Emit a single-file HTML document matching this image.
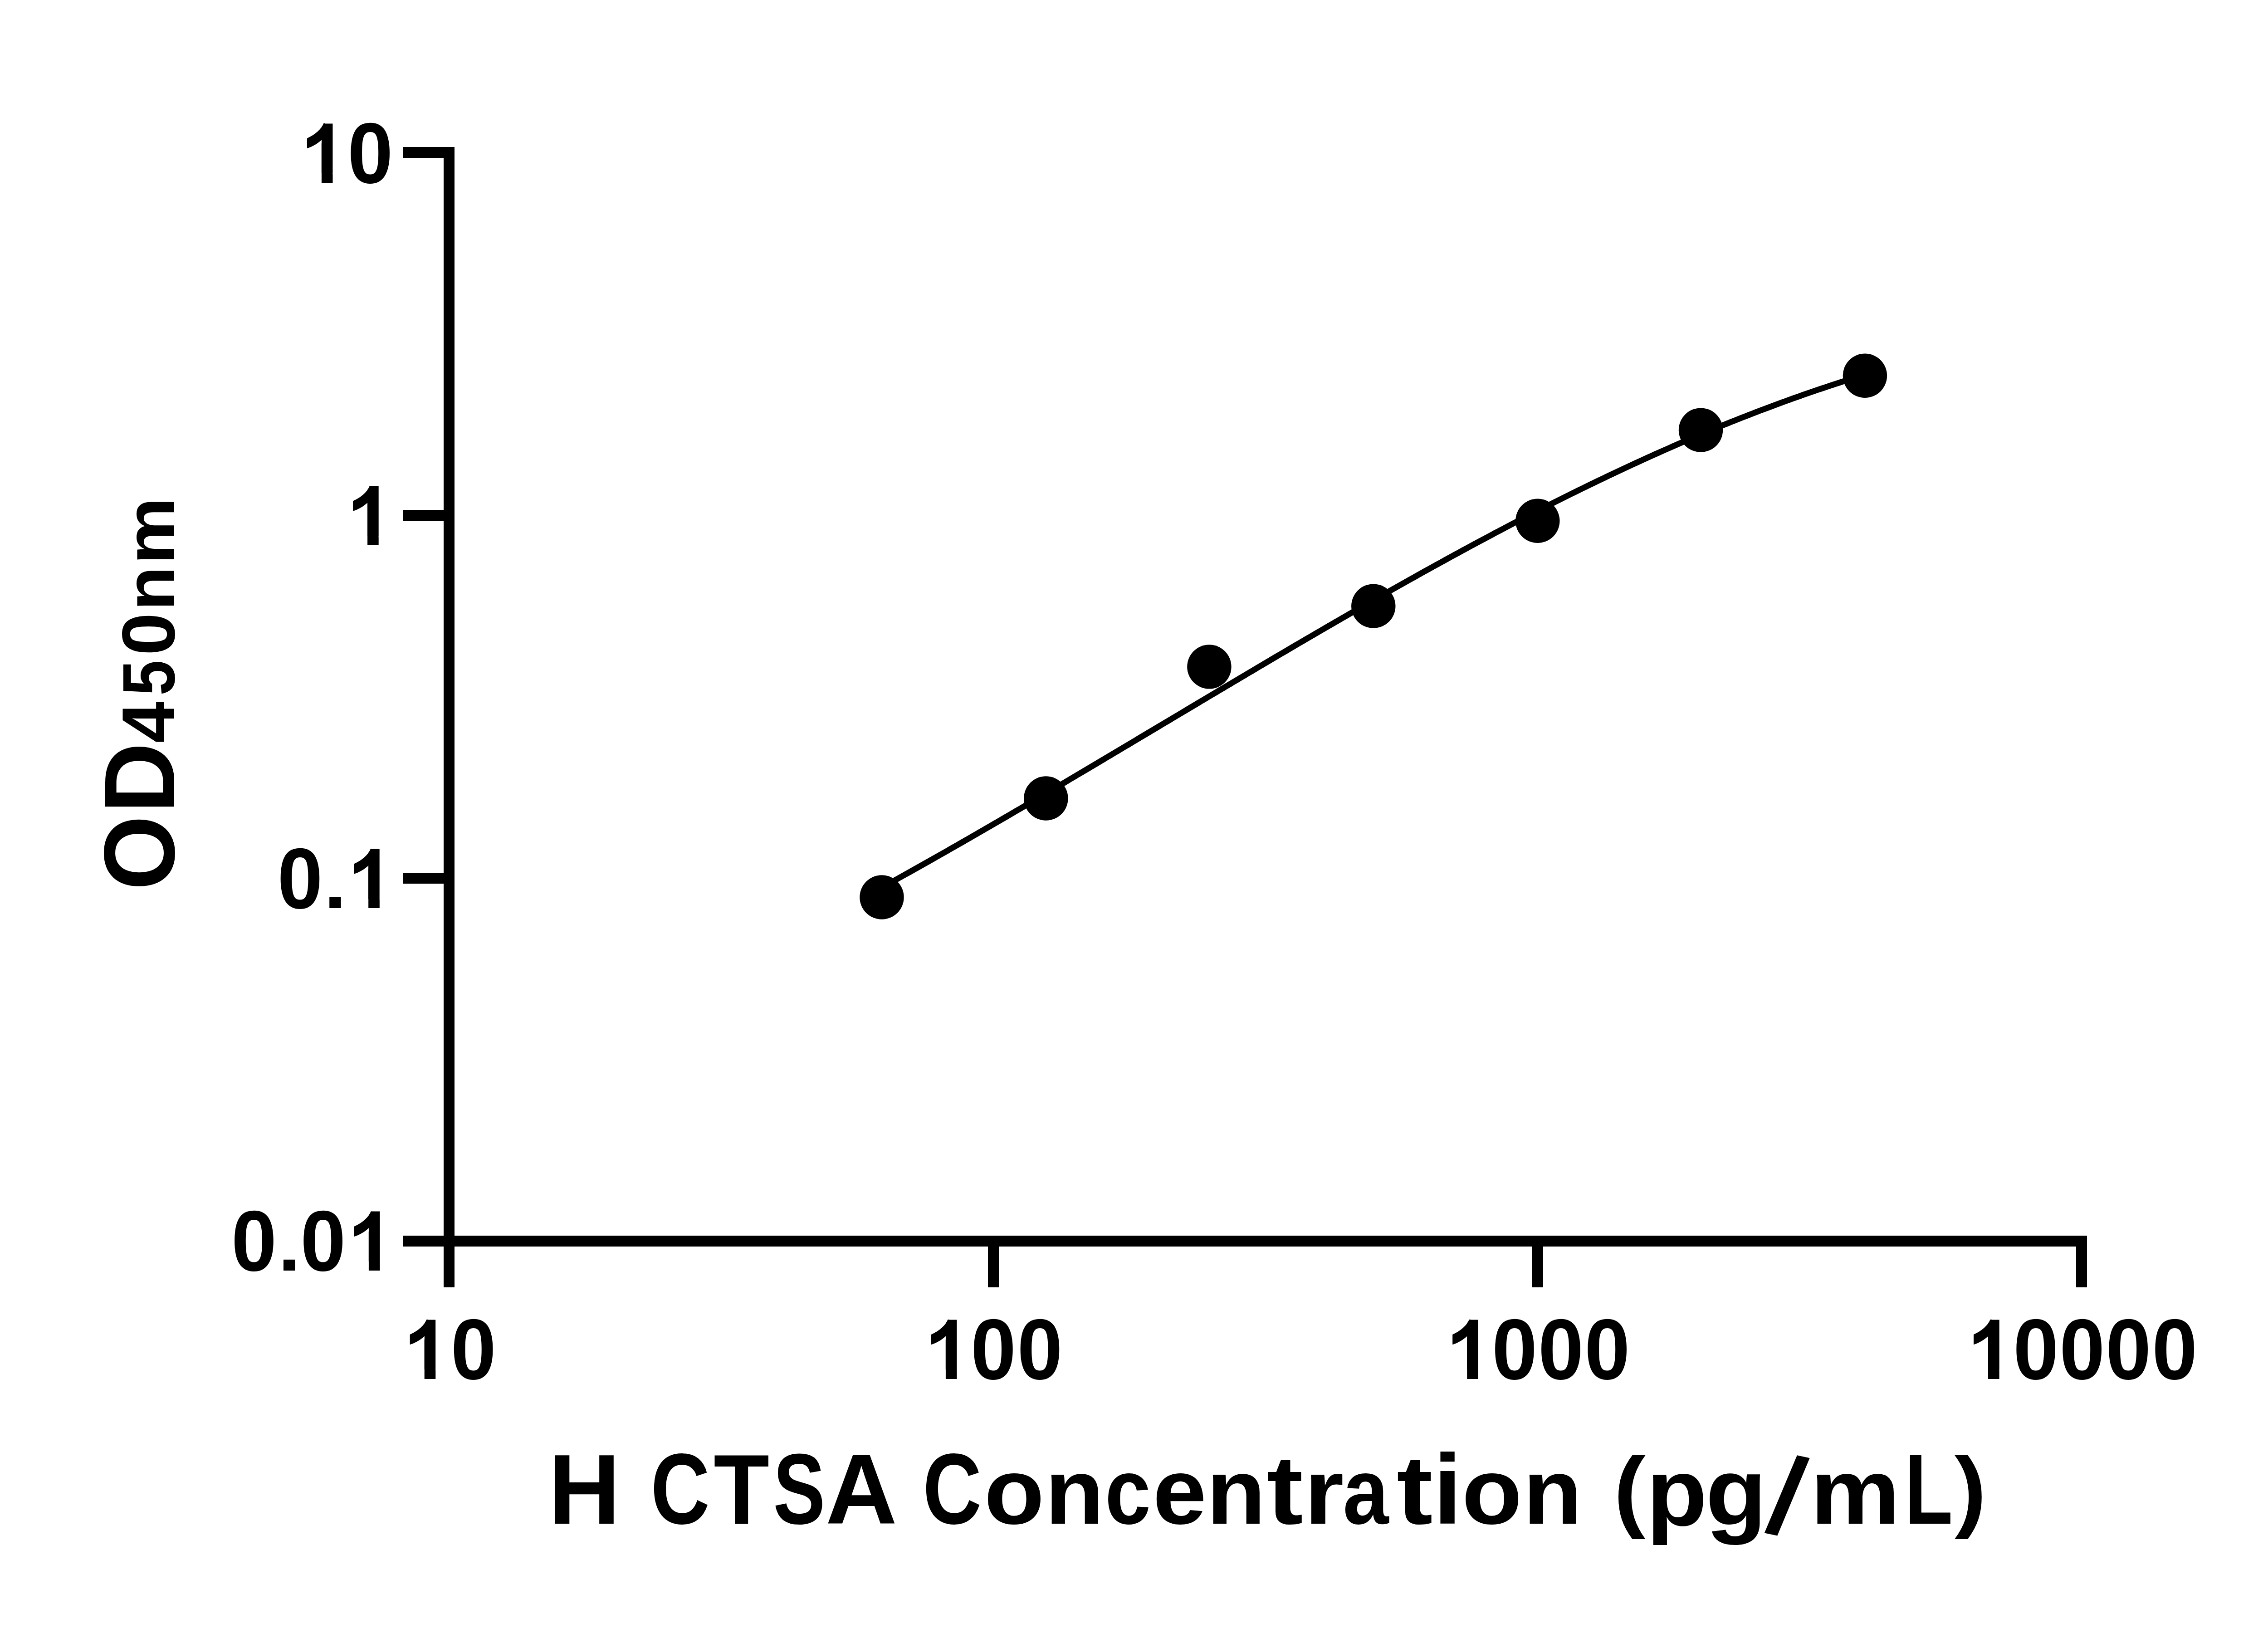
<!DOCTYPE html><html><head><meta charset="utf-8"><title>H CTSA standard curve</title><style>
html,body{margin:0;padding:0;background:#fff;}body{width:5142px;height:3600px;overflow:hidden;}
svg{display:block;}text{font-family:"Liberation Sans",sans-serif;font-weight:bold;fill:#000;}
</style></head><body>
<svg width="5142" height="3600" viewBox="0 0 5142 3600">
<rect width="5142" height="3600" fill="#fff"/>
<g fill="#000">
<rect x="978" y="324" width="24" height="2514"/>
<rect x="888" y="324" width="114" height="24"/>
<rect x="888" y="1124" width="114" height="24"/>
<rect x="888" y="1924" width="114" height="24"/>
<rect x="888" y="2724" width="114" height="24"/>
<rect x="978" y="2724" width="3623" height="24"/>
<rect x="2178" y="2724" width="24" height="114"/>
<rect x="3378" y="2724" width="24" height="114"/>
<rect x="4577" y="2724" width="24" height="114"/>
</g>
<polyline points="1944.0,1956.6 1952.0,1952.2 1960.0,1947.7 1968.0,1943.3 1976.0,1938.9 1984.0,1934.4 1992.0,1929.9 2000.0,1925.5 2008.0,1921.0 2016.0,1916.5 2024.0,1912.0 2032.0,1907.5 2040.0,1903.0 2048.0,1898.5 2056.0,1894.0 2064.0,1889.4 2072.0,1884.9 2080.0,1880.3 2088.0,1875.8 2096.0,1871.2 2104.0,1866.6 2112.0,1862.1 2120.0,1857.5 2128.0,1852.9 2136.0,1848.3 2144.0,1843.7 2152.0,1839.1 2160.0,1834.4 2168.0,1829.8 2176.0,1825.2 2184.0,1820.6 2192.0,1815.9 2200.0,1811.3 2208.0,1806.6 2216.0,1802.0 2224.0,1797.3 2232.0,1792.6 2240.0,1787.9 2248.0,1783.3 2256.0,1778.6 2264.0,1773.9 2272.0,1769.2 2280.0,1764.5 2288.0,1759.8 2296.0,1755.1 2304.0,1750.4 2312.0,1745.7 2320.0,1741.0 2328.0,1736.2 2336.0,1731.5 2344.0,1726.8 2352.0,1722.1 2360.0,1717.3 2368.0,1712.6 2376.0,1707.8 2384.0,1703.1 2392.0,1698.4 2400.0,1693.6 2408.0,1688.9 2416.0,1684.1 2424.0,1679.4 2432.0,1674.6 2440.0,1669.8 2448.0,1665.1 2456.0,1660.3 2464.0,1655.6 2472.0,1650.8 2480.0,1646.0 2488.0,1641.3 2496.0,1636.5 2504.0,1631.7 2512.0,1626.9 2520.0,1622.2 2528.0,1617.4 2536.0,1612.6 2544.0,1607.9 2552.0,1603.1 2560.0,1598.3 2568.0,1593.5 2576.0,1588.8 2584.0,1584.0 2592.0,1579.2 2600.0,1574.5 2608.0,1569.7 2616.0,1564.9 2624.0,1560.1 2632.0,1555.4 2640.0,1550.6 2648.0,1545.8 2656.0,1541.1 2664.0,1536.3 2672.0,1531.5 2680.0,1526.8 2688.0,1522.0 2696.0,1517.3 2704.0,1512.5 2712.0,1507.8 2720.0,1503.0 2728.0,1498.3 2736.0,1493.5 2744.0,1488.8 2752.0,1484.0 2760.0,1479.3 2768.0,1474.6 2776.0,1469.8 2784.0,1465.1 2792.0,1460.4 2800.0,1455.7 2808.0,1450.9 2816.0,1446.2 2824.0,1441.5 2832.0,1436.8 2840.0,1432.1 2848.0,1427.4 2856.0,1422.7 2864.0,1418.0 2872.0,1413.4 2880.0,1408.7 2888.0,1404.0 2896.0,1399.3 2904.0,1394.7 2912.0,1390.0 2920.0,1385.4 2928.0,1380.7 2936.0,1376.1 2944.0,1371.4 2952.0,1366.8 2960.0,1362.2 2968.0,1357.6 2976.0,1352.9 2984.0,1348.3 2992.0,1343.7 3000.0,1339.2 3008.0,1334.6 3016.0,1330.0 3024.0,1325.4 3032.0,1320.8 3040.0,1316.3 3048.0,1311.7 3056.0,1307.2 3064.0,1302.7 3072.0,1298.1 3080.0,1293.6 3088.0,1289.1 3096.0,1284.6 3104.0,1280.1 3112.0,1275.6 3120.0,1271.2 3128.0,1266.7 3136.0,1262.2 3144.0,1257.8 3152.0,1253.3 3160.0,1248.9 3168.0,1244.5 3176.0,1240.1 3184.0,1235.7 3192.0,1231.3 3200.0,1226.9 3208.0,1222.5 3216.0,1218.2 3224.0,1213.8 3232.0,1209.5 3240.0,1205.1 3248.0,1200.8 3256.0,1196.5 3264.0,1192.2 3272.0,1187.9 3280.0,1183.7 3288.0,1179.4 3296.0,1175.1 3304.0,1170.9 3312.0,1166.7 3320.0,1162.5 3328.0,1158.3 3336.0,1154.1 3344.0,1149.9 3352.0,1145.7 3360.0,1141.6 3368.0,1137.4 3376.0,1133.3 3384.0,1129.2 3392.0,1125.1 3400.0,1121.0 3408.0,1116.9 3416.0,1112.9 3424.0,1108.8 3432.0,1104.8 3440.0,1100.8 3448.0,1096.8 3456.0,1092.8 3464.0,1088.8 3472.0,1084.9 3480.0,1080.9 3488.0,1077.0 3496.0,1073.1 3504.0,1069.2 3512.0,1065.3 3520.0,1061.4 3528.0,1057.6 3536.0,1053.8 3544.0,1049.9 3552.0,1046.1 3560.0,1042.3 3568.0,1038.6 3576.0,1034.8 3584.0,1031.1 3592.0,1027.4 3600.0,1023.7 3608.0,1020.0 3616.0,1016.3 3624.0,1012.6 3632.0,1009.0 3640.0,1005.4 3648.0,1001.8 3656.0,998.2 3664.0,994.6 3672.0,991.1 3680.0,987.6 3688.0,984.0 3696.0,980.5 3704.0,977.1 3712.0,973.6 3720.0,970.2 3728.0,966.7 3736.0,963.3 3744.0,960.0 3752.0,956.6 3760.0,953.2 3768.0,949.9 3776.0,946.6 3784.0,943.3 3792.0,940.0 3800.0,936.8 3808.0,933.6 3816.0,930.3 3824.0,927.2 3832.0,924.0 3840.0,920.8 3848.0,917.7 3856.0,914.6 3864.0,911.5 3872.0,908.4 3880.0,905.3 3888.0,902.3 3896.0,899.3 3904.0,896.3 3912.0,893.3 3920.0,890.4 3928.0,887.4 3936.0,884.5 3944.0,881.6 3952.0,878.7 3960.0,875.9 3968.0,873.1 3976.0,870.2 3984.0,867.4 3992.0,864.7 4000.0,861.9 4008.0,859.2 4016.0,856.5 4024.0,853.8 4032.0,851.1 4040.0,848.5 4048.0,845.8 4056.0,843.2 4064.0,840.6 4072.0,838.1 4080.0,835.5 4088.0,833.0 4096.0,830.5 4104.0,828.0 4111.4,825.7" fill="none" stroke="#000" stroke-width="13" stroke-linejoin="round" stroke-linecap="round"/>
<g fill="#000">
<circle cx="1944.0" cy="1978.0" r="48.7"/>
<circle cx="2305.9" cy="1760.0" r="48.7"/>
<circle cx="2665.9" cy="1469.9" r="48.7"/>
<circle cx="3027.8" cy="1336.1" r="48.7"/>
<circle cx="3389.8" cy="1148.3" r="48.7"/>
<circle cx="3749.5" cy="948.1" r="48.7"/>
<circle cx="4111.4" cy="828.2" r="48.7"/>
</g>
<text transform="translate(0 402.5) scale(1 1.0554)" x="666.8 766.2" y="0" font-size="180">10</text>
<text transform="translate(0 1202.2) scale(1 1.0554)" x="768.0" y="0" font-size="180">1</text>
<text transform="translate(0 2002.2) scale(1 1.0554)" x="611.4 713.9 770.1" y="0" font-size="180">0.1</text>
<text transform="translate(0 2801.4) scale(1 1.0554)" x="510.1 612.7 662.3 770.8" y="0" font-size="180">0.01</text>
<text transform="translate(0 3039.7) scale(1 1.0554)" x="893.6 993.7" y="0" font-size="180">10</text>
<text transform="translate(0 3039.7) scale(1 1.0554)" x="2042.8 2140.0 2242.6" y="0" font-size="180">100</text>
<text transform="translate(0 3039.7) scale(1 1.0554)" x="3192.1 3289.1 3391.1 3493.3" y="0" font-size="180">1000</text>
<text transform="translate(0 3039.7) scale(1 1.0554)" x="4340.9 4438.3 4540.3 4642.3 4744.2" y="0" font-size="180">10000</text>
<g fill="#fff">
<rect x="675.2" y="382.1" width="33.7" height="23.4"/>
<rect x="733.5" y="382.1" width="31.4" height="23.4"/>
<rect x="674.8" y="269.8" width="34.0" height="46.4"/>
<rect x="776.4" y="1181.8" width="33.7" height="23.4"/>
<rect x="834.7" y="1181.8" width="31.4" height="23.4"/>
<rect x="776.0" y="1069.5" width="34.0" height="46.4"/>
<rect x="724.1" y="1971.9" width="29.4" height="5.7"/>
<rect x="778.5" y="1981.8" width="33.7" height="23.4"/>
<rect x="836.8" y="1981.8" width="31.4" height="23.4"/>
<rect x="778.1" y="1869.5" width="34.0" height="46.4"/>
<rect x="622.9" y="2771.1" width="29.4" height="5.7"/>
<rect x="779.2" y="2781.0" width="33.7" height="23.4"/>
<rect x="837.5" y="2781.0" width="31.4" height="23.4"/>
<rect x="778.8" y="2668.7" width="34.0" height="46.4"/>
<rect x="902.0" y="3019.3" width="33.7" height="23.4"/>
<rect x="960.3" y="3019.3" width="31.4" height="23.4"/>
<rect x="901.6" y="2907.0" width="34.0" height="46.4"/>
<rect x="2051.2" y="3019.3" width="33.7" height="23.4"/>
<rect x="2109.5" y="3019.3" width="31.4" height="23.4"/>
<rect x="2050.8" y="2907.0" width="34.0" height="46.4"/>
<rect x="3200.5" y="3019.3" width="33.7" height="23.4"/>
<rect x="3258.8" y="3019.3" width="31.4" height="23.4"/>
<rect x="3200.1" y="2907.0" width="34.0" height="46.4"/>
<rect x="4349.3" y="3019.3" width="33.7" height="23.4"/>
<rect x="4407.6" y="3019.3" width="31.4" height="23.4"/>
<rect x="4348.9" y="2907.0" width="34.0" height="46.4"/>
</g>
<g fill="#fff">
<path d="M713.7 271.8c-4.3 12-18.8 25-36.8 33.1h-3v-35.1h40.5z"/>
<path d="M814.9 1071.5c-4.3 12-18.8 25-36.8 33.1h-3v-35.1h40.5z"/>
<path d="M817.0 1871.5c-4.3 12-18.8 25-36.8 33.1h-3v-35.1h40.5z"/>
<path d="M817.7 2670.7c-4.3 12-18.8 25-36.8 33.1h-3v-35.1h40.5z"/>
<path d="M940.5 2909.0c-4.3 12-18.8 25-36.8 33.1h-3v-35.1h40.5z"/>
<path d="M2089.7 2909.0c-4.3 12-18.8 25-36.8 33.1h-3v-35.1h40.5z"/>
<path d="M3239.0 2909.0c-4.3 12-18.8 25-36.8 33.1h-3v-35.1h40.5z"/>
<path d="M4387.8 2909.0c-4.3 12-18.8 25-36.8 33.1h-3v-35.1h40.5z"/>
</g>
<g fill="#000">
<path d="M713.7 271.8c-4.3 12-18.8 25-36.8 33.1v22.2c12-3.3 24-11.3 32-18.5h8v-36.8z"/>
<path d="M814.9 1071.5c-4.3 12-18.8 25-36.8 33.1v22.2c12-3.3 24-11.3 32-18.5h8v-36.8z"/>
<path d="M817.0 1871.5c-4.3 12-18.8 25-36.8 33.1v22.2c12-3.3 24-11.3 32-18.5h8v-36.8z"/>
<path d="M817.7 2670.7c-4.3 12-18.8 25-36.8 33.1v22.2c12-3.3 24-11.3 32-18.5h8v-36.8z"/>
<path d="M940.5 2909.0c-4.3 12-18.8 25-36.8 33.1v22.2c12-3.3 24-11.3 32-18.5h8v-36.8z"/>
<path d="M2089.7 2909.0c-4.3 12-18.8 25-36.8 33.1v22.2c12-3.3 24-11.3 32-18.5h8v-36.8z"/>
<path d="M3239.0 2909.0c-4.3 12-18.8 25-36.8 33.1v22.2c12-3.3 24-11.3 32-18.5h8v-36.8z"/>
<path d="M4387.8 2909.0c-4.3 12-18.8 25-36.8 33.1v22.2c12-3.3 24-11.3 32-18.5h8v-36.8z"/>
</g>
<text><tspan x="1209.1" y="3359.4" font-size="219.8" textLength="158.6" lengthAdjust="spacingAndGlyphs">H</tspan> <tspan x="1434.4" y="3359.4" font-size="220.8" textLength="130.3" lengthAdjust="spacingAndGlyphs">C</tspan><tspan x="1573.2" y="3359.4" font-size="219.8" textLength="122.8" lengthAdjust="spacingAndGlyphs">T</tspan><tspan x="1704.6" y="3359.4" font-size="220.8" textLength="114.8" lengthAdjust="spacingAndGlyphs">S</tspan><tspan x="1820.1" y="3359.4" font-size="219.8" textLength="158.0" lengthAdjust="spacingAndGlyphs">A</tspan> <tspan x="2034.6" y="3359.4" font-size="220.8" textLength="129.7" lengthAdjust="spacingAndGlyphs">C</tspan><tspan x="2169.4" y="3359.4" font-size="206.0" textLength="132.8" lengthAdjust="spacingAndGlyphs">o</tspan><tspan x="2303.8" y="3359.4" font-size="204.6" textLength="130.3" lengthAdjust="spacingAndGlyphs">n</tspan><tspan x="2436.0" y="3359.4" font-size="206.0" textLength="101.0" lengthAdjust="spacingAndGlyphs">c</tspan><tspan x="2541.5" y="3359.4" font-size="206.0" textLength="118.4" lengthAdjust="spacingAndGlyphs">e</tspan><tspan x="2659.8" y="3359.4" font-size="204.6" textLength="130.4" lengthAdjust="spacingAndGlyphs">n</tspan><tspan x="2793.1" y="3359.4" font-size="215.0" textLength="79.7" lengthAdjust="spacingAndGlyphs">t</tspan><tspan x="2875.3" y="3359.4" font-size="204.6" textLength="87.4" lengthAdjust="spacingAndGlyphs">r</tspan><tspan x="2960.6" y="3359.4" font-size="206.0" textLength="100.9" lengthAdjust="spacingAndGlyphs">a</tspan><tspan x="3079.0" y="3359.4" font-size="215.0" textLength="79.5" lengthAdjust="spacingAndGlyphs">t</tspan><tspan x="3159.6" y="3359.4" font-size="219.0" textLength="63.4" lengthAdjust="spacingAndGlyphs">i</tspan><tspan x="3222.8" y="3359.4" font-size="206.0" textLength="132.8" lengthAdjust="spacingAndGlyphs">o</tspan><tspan x="3357.8" y="3359.4" font-size="204.6" textLength="130.0" lengthAdjust="spacingAndGlyphs">n</tspan> <tspan x="3557.5" y="3352.4" font-size="199.0" textLength="70.2" lengthAdjust="spacingAndGlyphs">(</tspan><tspan x="3629.4" y="3362.0" font-size="209.0" textLength="134.1" lengthAdjust="spacingAndGlyphs">p</tspan><tspan x="3760.3" y="3362.0" font-size="209.0" textLength="134.5" lengthAdjust="spacingAndGlyphs">g</tspan><tspan x="3888.6" y="3374.2" font-size="245.0" rotate="12">/</tspan><tspan x="3991.1" y="3359.4" font-size="204.6" textLength="197.8" lengthAdjust="spacingAndGlyphs">m</tspan><tspan x="4199.2" y="3359.4" font-size="219.8" textLength="105.8" lengthAdjust="spacingAndGlyphs">L</tspan><tspan x="4309.1" y="3352.4" font-size="199.0" textLength="70.3" lengthAdjust="spacingAndGlyphs">)</tspan></text>
<text transform="translate(384.4 1953.8) rotate(-90)"><tspan x="-8.7" y="0.0" font-size="220.9" textLength="164.6" lengthAdjust="spacingAndGlyphs">O</tspan><tspan x="161.1" y="0.0" font-size="220.1" textLength="155.9" lengthAdjust="spacingAndGlyphs">D</tspan><tspan x="315.7" y="0.0" font-size="165.1" textLength="91.6" lengthAdjust="spacingAndGlyphs">4</tspan><tspan x="420.3" y="0.0" font-size="163.5" textLength="78.2" lengthAdjust="spacingAndGlyphs">5</tspan><tspan x="508.9" y="0.0" font-size="165.0" textLength="94.3" lengthAdjust="spacingAndGlyphs">0</tspan><tspan x="607.5" y="0.0" font-size="153.9" textLength="97.8" lengthAdjust="spacingAndGlyphs">n</tspan><tspan x="709.4" y="0.0" font-size="153.9" textLength="148.5" lengthAdjust="spacingAndGlyphs">m</tspan></text>
</svg></body></html>
